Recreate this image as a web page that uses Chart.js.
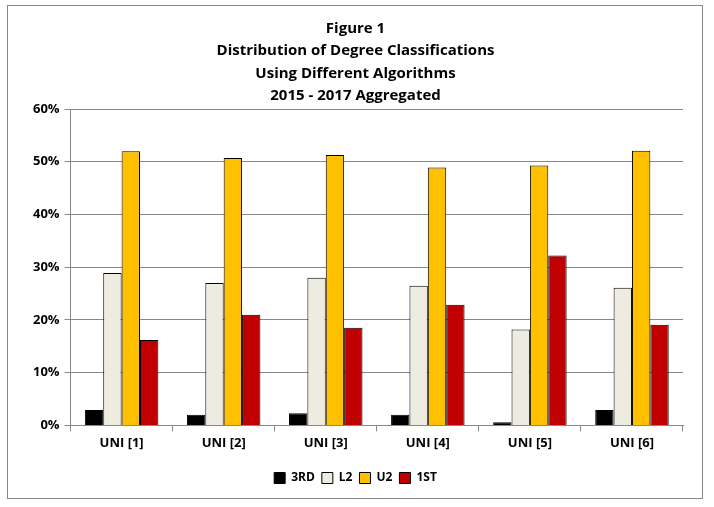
<!DOCTYPE html>
<html>
<head>
<meta charset="utf-8">
<script src="https://cdn.jsdelivr.net/npm/chart.js@4"></script>
<style>
  html, body { margin: 0; padding: 0; background: #fff; }
  #wrap { position: relative; width: 714px; height: 507px; }
  #frame { position: absolute; left: 7px; top: 5px; width: 696px; height: 494px; border: 1px solid #888; box-sizing: border-box; }
  canvas { position: absolute; left: 0; top: 0; }
</style>
</head>
<body>
<div id="wrap">
  <div id="frame"></div>
  <canvas id="chart" width="714" height="507"></canvas>
</div>
<script>
const categories = ['UNI [1]', 'UNI [2]', 'UNI [3]', 'UNI [4]', 'UNI [5]', 'UNI [6]'];
const third = [0.029, 0.020, 0.023, 0.020, 0.006, 0.029];
const lower2 = [0.289, 0.270, 0.280, 0.265, 0.182, 0.261];
const upper2 = [0.520, 0.507, 0.513, 0.489, 0.493, 0.521];
const first = [0.162, 0.210, 0.185, 0.229, 0.322, 0.191];
const yTicks = [0, 0.1, 0.2, 0.3, 0.4, 0.5, 0.6];

const font = "'Open Sans', 'DejaVu Sans', sans-serif";

new Chart(document.getElementById('chart'), {
  type: 'bar',
  data: {
    labels: categories,
    datasets: [
      { label: '3RD', data: third, backgroundColor: '#000000' },
      { label: 'L2', data: lower2, backgroundColor: '#EEEBE0' },
      { label: 'U2', data: upper2, backgroundColor: '#FFC000' },
      { label: '1ST', data: first, backgroundColor: '#C00000' }
    ].map(d => Object.assign(d, { borderColor: '#000', borderWidth: 1 }))
  },
  options: {
    responsive: false,
    animation: false,
    devicePixelRatio: 1,
    layout: { padding: { left: 28, right: 31, top: 17, bottom: 13 } },
    datasets: { bar: { categoryPercentage: 0.72, barPercentage: 1.0 } },
    plugins: {
      title: {
        display: true,
        text: ['Figure 1', 'Distribution of Degree Classifications', 'Using Different Algorithms', '2015 - 2017 Aggregated'],
        color: '#000',
        font: { family: font, size: 15, weight: 'bold', lineHeight: 1.5 },
        padding: { top: 0, bottom: 2 }
      },
      legend: {
        position: 'bottom',
        labels: {
          color: '#000',
          boxWidth: 11,
          boxHeight: 11,
          padding: 7,
          font: { family: font, size: 12, weight: 'bold' }
        }
      },
      tooltip: { enabled: false }
    },
    scales: {
      x: {
        grid: { display: true, drawOnChartArea: false, offset: true, color: '#888', tickLength: 6 },
        border: { color: '#888' },
        ticks: { color: '#000', padding: 4, font: { family: font, size: 13, weight: 'bold' } },
        afterFit: axis => { axis.height += 10; }
      },
      y: {
        min: 0,
        max: 0.6,
        afterBuildTicks: axis => { axis.ticks = yTicks.map(v => ({ value: v })); },
        grid: { color: '#888', tickLength: 6 },
        border: { color: '#888' },
        ticks: {
          color: '#000',
          padding: 5,
          font: { family: font, size: 13, weight: 'bold' },
          callback: v => Math.round(v * 100) + '%'
        }
      }
    }
  }
});
</script>
</body>
</html>
